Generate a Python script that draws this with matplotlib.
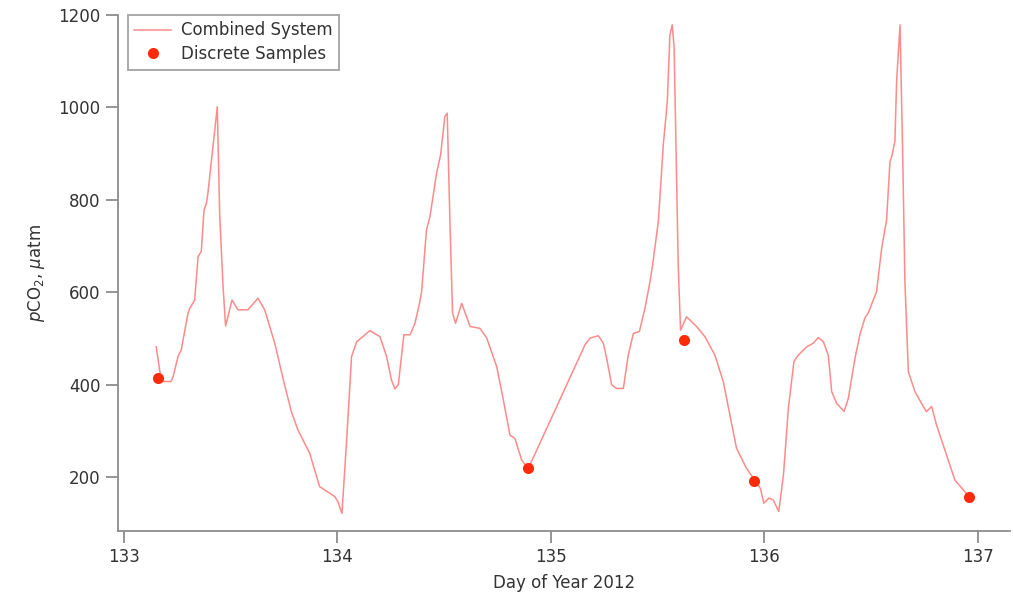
#!/usr/bin/env python3
"""pCO2 time series from the combined sensor system with discrete bottle samples."""
import matplotlib

matplotlib.use("Agg")
import matplotlib.pyplot as plt

LINE = "#ff8a8a"
DOT = "#ff2a0a"
AXIS = "#8c8c8c"
TEXT = "#333333"

# combined system record (day of year, uatm)
day = [
    133.151, 133.167, 133.175, 133.190, 133.220, 133.230, 133.253, 133.268,
    133.300, 133.308, 133.331, 133.347, 133.362, 133.375, 133.386, 133.393,
    133.417, 133.437, 133.448, 133.464, 133.476, 133.506, 133.534, 133.580,
    133.628, 133.659, 133.706, 133.752, 133.784, 133.815, 133.870, 133.916,
    133.965, 133.988, 134.002, 134.021, 134.043, 134.066, 134.090, 134.152,
    134.199, 134.230, 134.253, 134.269, 134.285, 134.311, 134.340, 134.363,
    134.386, 134.394, 134.417, 134.433, 134.464, 134.483, 134.503, 134.514,
    134.527, 134.539, 134.553, 134.582, 134.621, 134.667, 134.699, 134.746,
    134.777, 134.808, 134.831, 134.863, 134.894, 135.159, 135.183, 135.222,
    135.245, 135.261, 135.284, 135.307, 135.339, 135.362, 135.386, 135.414,
    135.440, 135.464, 135.476, 135.503, 135.514, 135.526, 135.545, 135.557,
    135.568, 135.577, 135.589, 135.596, 135.607, 135.635, 135.682, 135.721,
    135.768, 135.807, 135.838, 135.869, 135.916, 135.953, 135.981, 135.997,
    136.021, 136.041, 136.067, 136.089, 136.112, 136.138, 136.158, 136.198,
    136.229, 136.252, 136.276, 136.299, 136.315, 136.338, 136.373, 136.393,
    136.424, 136.447, 136.470, 136.486, 136.525, 136.549, 136.572, 136.588,
    136.596, 136.611, 136.619, 136.635, 136.647, 136.658, 136.674, 136.705,
    136.744, 136.759, 136.783, 136.806, 136.853, 136.892, 136.931, 136.955,
]
pco2 = [
    482, 432, 410, 407, 407, 417, 461, 475,
    555, 565, 583, 677, 688, 778, 792, 814,
    915, 1001, 771, 612, 527, 583, 562, 562,
    587, 562, 490, 400, 342, 302, 252, 180,
    165, 158, 147, 122, 281, 461, 493, 517,
    504, 461, 410, 391, 400, 508, 508, 533,
    580, 601, 735, 763, 857, 897, 980, 987,
    749, 555, 533, 576, 526, 522, 501, 439,
    367, 291, 284, 237, 219, 486, 501, 506,
    490, 457, 400, 392, 392, 464, 511, 515,
    565, 623, 659, 753, 832, 918, 1012, 1156,
    1178, 1128, 839, 659, 518, 547, 526, 504,
    464, 407, 335, 263, 219, 195, 176, 144,
    155, 151, 126, 205, 349, 450, 464, 482,
    490, 502, 493, 464, 385, 360, 342, 371,
    457, 508, 544, 555, 601, 695, 756, 882,
    893, 926, 1055, 1178, 911, 623, 428, 385,
    353, 342, 353, 313, 248, 194, 173, 160,
]

# discrete bottle samples
sample_day = [133.159, 134.894, 135.624, 135.953, 136.959]
sample_pco2 = [415, 219, 497, 192, 158]

plt.rcParams["font.family"] = ["DejaVu Sans"]

fig = plt.figure(figsize=(10.13, 6.0), dpi=100)
ax = fig.add_axes([0.1165, 0.1155, 0.8805, 0.86])

ax.plot(day, pco2, "-", color=LINE, linewidth=1.1, label="Combined System")
ax.plot(sample_day, sample_pco2, "o", color=DOT, markersize=8,
        markeredgewidth=0, label="Discrete Samples")

ax.set_xlim(132.972, 137.15)
ax.set_ylim(84.5, 1200)
ax.set_xticks([133, 134, 135, 136, 137])
ax.set_yticks([200, 400, 600, 800, 1000, 1200])

for side in ("top", "right"):
    ax.spines[side].set_visible(False)
for side in ("left", "bottom"):
    ax.spines[side].set_color(AXIS)
    ax.spines[side].set_linewidth(1.3)
ax.tick_params(colors=AXIS, labelcolor=TEXT, length=8.5, width=1.3,
               labelsize=12, pad=4)

ax.set_xlabel("Day of Year 2012", fontsize=12, color=TEXT, labelpad=6)
ax.set_ylabel(r"$\it{p}$CO$_2$, $\it{\mu}$atm", fontsize=12, color=TEXT,
              labelpad=8)

leg = ax.legend(loc="upper left", bbox_to_anchor=(0.011, 1.0), fontsize=12,
                frameon=True, fancybox=False, borderpad=0.4, labelspacing=0.35,
                handlelength=2.2, handletextpad=0.6, borderaxespad=0.0)
leg.get_frame().set_edgecolor(AXIS)
leg.get_frame().set_linewidth(1.3)
for t in leg.get_texts():
    t.set_color(TEXT)

fig.savefig("out.png", dpi=100)
